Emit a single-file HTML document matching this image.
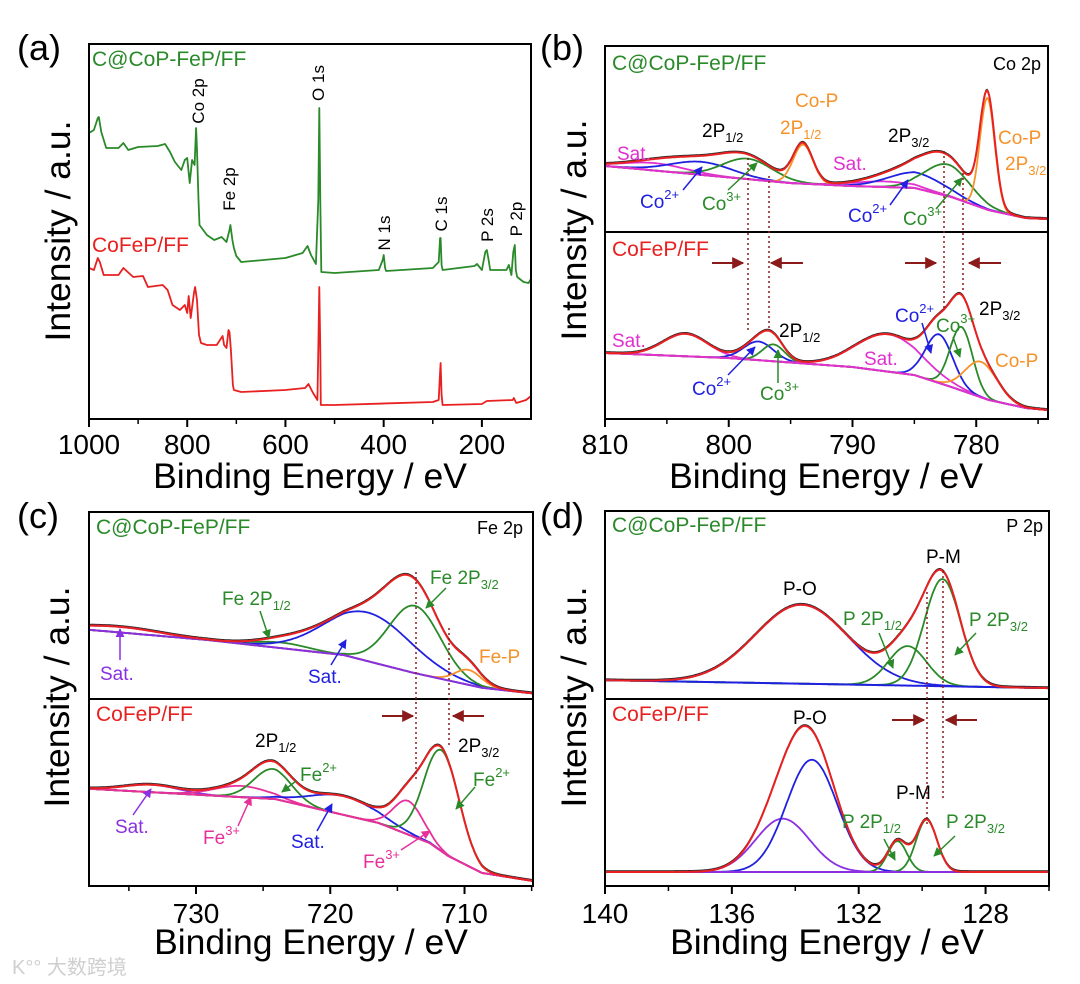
<!DOCTYPE html>
<html><head><meta charset="utf-8">
<style>
html,body{margin:0;padding:0;background:#fff;}
svg{display:block;font-family:"Liberation Sans","Noto Sans CJK SC",sans-serif;}
</style></head>
<body>
<svg id="chart" width="1080" height="984" viewBox="0 0 1080 984" xmlns="http://www.w3.org/2000/svg">
<defs>
<marker id="mg" viewBox="0 0 10 10" refX="9" refY="5" markerWidth="6" markerHeight="6" orient="auto"><path d="M0,0L10,5L0,10z" fill="#2a8a2a"/></marker>
<marker id="mb" viewBox="0 0 10 10" refX="9" refY="5" markerWidth="6" markerHeight="6" orient="auto"><path d="M0,0L10,5L0,10z" fill="#2020e0"/></marker>
<marker id="mp" viewBox="0 0 10 10" refX="9" refY="5" markerWidth="6" markerHeight="6" orient="auto"><path d="M0,0L10,5L0,10z" fill="#8a30e0"/></marker>
<marker id="mk" viewBox="0 0 10 10" refX="9" refY="5" markerWidth="6" markerHeight="6" orient="auto"><path d="M0,0L10,5L0,10z" fill="#e8309a"/></marker>
<marker id="md" viewBox="0 0 10 10" refX="9" refY="5" markerWidth="6" markerHeight="6" orient="auto"><path d="M0,0L10,5L0,10z" fill="#8b1a1a"/></marker>
</defs>
<g id="plots"></g>

<text x="17" y="60" font-size="36">(a)</text>
<text x="540" y="60" font-size="36">(b)</text>
<text x="17" y="528" font-size="36">(c)</text>
<text x="540" y="528" font-size="36">(d)</text>

<text x="310" y="488" font-size="35.5" text-anchor="middle">Binding Energy / eV</text>
<text x="826" y="488" font-size="35.5" text-anchor="middle">Binding Energy / eV</text>
<text x="311" y="954" font-size="35.5" text-anchor="middle">Binding Energy / eV</text>
<text x="827" y="954" font-size="35.5" text-anchor="middle">Binding Energy / eV</text>
<text transform="translate(70,231) rotate(-90)" font-size="35.5" text-anchor="middle">Intensity / a.u.</text>
<text transform="translate(586,230) rotate(-90)" font-size="35.5" text-anchor="middle">Intensity / a.u.</text>
<text transform="translate(69,697) rotate(-90)" font-size="35.5" text-anchor="middle">Intensity / a.u.</text>
<text transform="translate(586,697) rotate(-90)" font-size="35.5" text-anchor="middle">Intensity / a.u.</text>

<g font-size="21">
<text x="92" y="66" fill="#2a8a2a">C@CoP-FeP/FF</text>
<text x="92" y="252" fill="#e82020">CoFeP/FF</text>
</g>
<g font-size="17">
<text transform="translate(198,101) rotate(-90)" y="6" text-anchor="middle">Co 2p</text>
<text transform="translate(229,189) rotate(-90)" y="6" text-anchor="middle">Fe 2p</text>
<text transform="translate(318,83) rotate(-90)" y="6" text-anchor="middle">O 1s</text>
<text transform="translate(384,233) rotate(-90)" y="6" text-anchor="middle">N 1s</text>
<text transform="translate(441,214) rotate(-90)" y="6" text-anchor="middle">C 1s</text>
<text transform="translate(487,225) rotate(-90)" y="6" text-anchor="middle">P 2s</text>
<text transform="translate(516,219) rotate(-90)" y="6" text-anchor="middle">P 2p</text>
</g>

<g font-size="19">
<text x="612" y="70" fill="#2a8a2a" font-size="21">C@CoP-FeP/FF</text>
<text x="1041" y="70" text-anchor="end" font-size="18">Co 2p</text>
<text x="702" y="137">2P<tspan font-size="13" dy="5">1/2</tspan></text>
<text x="795" y="107" fill="#f5922a">Co-P</text>
<text x="780" y="134" fill="#f5922a">2P<tspan font-size="13" dy="5">1/2</tspan></text>
<text x="888" y="142">2P<tspan font-size="13" dy="5">3/2</tspan></text>
<text x="617" y="160" fill="#e030d0">Sat.</text>
<text x="833" y="170" fill="#e030d0">Sat.</text>
<text x="998" y="144" fill="#f5922a">Co-P</text>
<text x="1005" y="170" fill="#f5922a">2P<tspan font-size="13" dy="5">3/2</tspan></text>
<text x="640" y="208" fill="#2020e0">Co<tspan font-size="13" dy="-9">2+</tspan></text>
<text x="702" y="210" fill="#2a8a2a">Co<tspan font-size="13" dy="-9">3+</tspan></text>
<text x="848" y="222" fill="#2020e0">Co<tspan font-size="13" dy="-9">2+</tspan></text>
<text x="903" y="225" fill="#2a8a2a">Co<tspan font-size="13" dy="-9">3+</tspan></text>
<text x="612" y="256" fill="#e82020" font-size="21">CoFeP/FF</text>
<text x="612" y="347" fill="#e030d0">Sat.</text>
<text x="779" y="337">2P<tspan font-size="13" dy="5">1/2</tspan></text>
<text x="692" y="395" fill="#2020e0">Co<tspan font-size="13" dy="-9">2+</tspan></text>
<text x="760" y="400" fill="#2a8a2a">Co<tspan font-size="13" dy="-9">3+</tspan></text>
<text x="864" y="365" fill="#e030d0">Sat.</text>
<text x="895" y="322" fill="#2020e0">Co<tspan font-size="13" dy="-9">2+</tspan></text>
<text x="936" y="332" fill="#2a8a2a">Co<tspan font-size="13" dy="-9">3+</tspan></text>
<text x="979" y="315">2P<tspan font-size="13" dy="5">3/2</tspan></text>
<text x="995" y="367" fill="#f5922a">Co-P</text>
</g>
<g stroke-width="1.5" fill="none">
<line x1="683" y1="190" x2="702" y2="167" stroke="#2020e0" marker-end="url(#mb)"/>
<line x1="728" y1="190" x2="757" y2="163" stroke="#2a8a2a" marker-end="url(#mg)"/>
<line x1="890" y1="205" x2="908" y2="180" stroke="#2020e0" marker-end="url(#mb)"/>
<line x1="936" y1="209" x2="962" y2="178" stroke="#2a8a2a" marker-end="url(#mg)"/>
<line x1="728" y1="375" x2="755" y2="347" stroke="#2020e0" marker-end="url(#mb)"/>
<line x1="778" y1="383" x2="778" y2="350" stroke="#2a8a2a" marker-end="url(#mg)"/>
<line x1="922" y1="323" x2="931" y2="353" stroke="#2020e0" marker-end="url(#mb)"/>
<line x1="953" y1="337" x2="960" y2="357" stroke="#2a8a2a" marker-end="url(#mg)"/>
<g stroke="#8b1a1a" stroke-dasharray="2,3">
<line x1="748" y1="158" x2="748" y2="333"/>
<line x1="769" y1="176" x2="769" y2="328"/>
<line x1="944" y1="151" x2="944" y2="310"/>
<line x1="963" y1="173" x2="963" y2="290"/>
</g>
<g stroke="#8b1a1a" stroke-width="2">
<line x1="712" y1="263" x2="743" y2="263" marker-end="url(#md)"/>
<line x1="803" y1="263" x2="771" y2="263" marker-end="url(#md)"/>
<line x1="905" y1="263" x2="936" y2="263" marker-end="url(#md)"/>
<line x1="1001" y1="263" x2="969" y2="263" marker-end="url(#md)"/>
</g>
</g>

<g font-size="19">
<text x="96" y="534" fill="#2a8a2a" font-size="21">C@CoP-FeP/FF</text>
<text x="523" y="534" text-anchor="end" font-size="18">Fe 2p</text>
<text x="222" y="605" fill="#2a8a2a">Fe 2P<tspan font-size="13" dy="5">1/2</tspan></text>
<text x="430" y="584" fill="#2a8a2a">Fe 2P<tspan font-size="13" dy="5">3/2</tspan></text>
<text x="100" y="680" fill="#8a30e0">Sat.</text>
<text x="308" y="683" fill="#2020e0">Sat.</text>
<text x="479" y="663" fill="#f5922a">Fe-P</text>
<text x="96" y="721" fill="#e82020" font-size="21">CoFeP/FF</text>
<text x="255" y="747">2P<tspan font-size="13" dy="5">1/2</tspan></text>
<text x="300" y="781" fill="#2a8a2a">Fe<tspan font-size="13" dy="-9">2+</tspan></text>
<text x="115" y="833" fill="#8a30e0">Sat.</text>
<text x="203" y="844" fill="#e8309a">Fe<tspan font-size="13" dy="-9">3+</tspan></text>
<text x="291" y="848" fill="#2020e0">Sat.</text>
<text x="363" y="868" fill="#e8309a">Fe<tspan font-size="13" dy="-9">3+</tspan></text>
<text x="458" y="752">2P<tspan font-size="13" dy="5">3/2</tspan></text>
<text x="473" y="786" fill="#2a8a2a">Fe<tspan font-size="13" dy="-9">2+</tspan></text>
</g>
<g stroke-width="1.5" fill="none">
<line x1="260" y1="611" x2="269" y2="638" stroke="#2a8a2a" marker-end="url(#mg)"/>
<line x1="446" y1="588" x2="426" y2="608" stroke="#2a8a2a" marker-end="url(#mg)"/>
<line x1="120" y1="660" x2="120" y2="629" stroke="#8a30e0" marker-end="url(#mp)"/>
<line x1="331" y1="665" x2="346" y2="640" stroke="#2020e0" marker-end="url(#mb)"/>
<line x1="296" y1="781" x2="282" y2="792" stroke="#2a8a2a" marker-end="url(#mg)"/>
<line x1="133" y1="815" x2="151" y2="789" stroke="#8a30e0" marker-end="url(#mp)"/>
<line x1="238" y1="826" x2="251" y2="797" stroke="#e8309a" marker-end="url(#mk)"/>
<line x1="317" y1="831" x2="332" y2="804" stroke="#2020e0" marker-end="url(#mb)"/>
<line x1="401" y1="850" x2="430" y2="831" stroke="#e8309a" marker-end="url(#mk)"/>
<line x1="475" y1="787" x2="456" y2="809" stroke="#2a8a2a" marker-end="url(#mg)"/>
<g stroke="#8b1a1a" stroke-dasharray="2,3">
<line x1="416" y1="572" x2="416" y2="779"/>
<line x1="449" y1="628" x2="449" y2="747"/>
</g>
<g stroke="#8b1a1a" stroke-width="2">
<line x1="382" y1="716" x2="413" y2="716" marker-end="url(#md)"/>
<line x1="484" y1="716" x2="453" y2="716" marker-end="url(#md)"/>
</g>
</g>

<g font-size="19">
<text x="612" y="532" fill="#2a8a2a" font-size="21">C@CoP-FeP/FF</text>
<text x="1043" y="532" text-anchor="end" font-size="18">P 2p</text>
<text x="926" y="563">P-M</text>
<text x="783" y="595">P-O</text>
<text x="843" y="625" fill="#2a8a2a">P 2P<tspan font-size="13" dy="5">1/2</tspan></text>
<text x="969" y="626" fill="#2a8a2a">P 2P<tspan font-size="13" dy="5">3/2</tspan></text>
<text x="612" y="721" fill="#e82020" font-size="21">CoFeP/FF</text>
<text x="793" y="724">P-O</text>
<text x="896" y="799">P-M</text>
<text x="842" y="828" fill="#2a8a2a">P 2P<tspan font-size="13" dy="5">1/2</tspan></text>
<text x="946" y="828" fill="#2a8a2a">P 2P<tspan font-size="13" dy="5">3/2</tspan></text>
</g>
<g stroke-width="1.5" fill="none">
<line x1="879" y1="633" x2="893" y2="668" stroke="#2a8a2a" marker-end="url(#mg)"/>
<line x1="976" y1="633" x2="955" y2="655" stroke="#2a8a2a" marker-end="url(#mg)"/>
<line x1="884" y1="839" x2="895" y2="860" stroke="#2a8a2a" marker-end="url(#mg)"/>
<line x1="955" y1="836" x2="934" y2="856" stroke="#2a8a2a" marker-end="url(#mg)"/>
<g stroke="#8b1a1a" stroke-dasharray="2,3">
<line x1="927" y1="592" x2="927" y2="826"/>
<line x1="943" y1="571" x2="943" y2="799"/>
</g>
<g stroke="#8b1a1a" stroke-width="2">
<line x1="892" y1="720" x2="924" y2="720" marker-end="url(#md)"/>
<line x1="977" y1="720" x2="946" y2="720" marker-end="url(#md)"/>
</g>
</g>

<text x="12" y="974" font-size="20" fill="#cfcfcf">K°° 大数跨境</text>
</svg>

<script>
const aGreenE = [1000,990,982,980,975,965,940,930,920,900,860,845,835,825,812,805,800,795,790,785,783,782,780,777,775,760,745,730,720,714,712,708,705,700,690,600,565,555,548,538,533,531,529,527,500,410,402,400,397,395,300,288,285,284,282,280,215,210,200,193,190,187,183,150,145,140,136,133,131,128,115,105,100];
const aGreenV = [286,289,301,302,287,271,271,276,269,272,273,275,267,257,249,259,261,236,259,254,279,291,269,219,194,184,179,182,177,189,194,179,171,163,157,161,166,173,164,155,219,311,219,147,146,149,159,164,151,148,151,157,181,181,154,149,153,155,149,167,169,161,149,149,154,144,167,174,149,142,137,136,140];
const aRedE = [1000,990,982,978,970,940,930,910,890,880,850,840,830,815,805,800,797,793,786,784,780,776,772,760,740,728,725,720,716,714,711,707,705,690,600,560,553,545,535,533,531,529,528,500,300,288,286,284,282,280,200,190,137,135,130,110,100];
const aRedV = [151,149,161,157,144,144,151,142,143,132,134,129,114,109,114,106,123,101,127,132,119,84,76,74,74,83,74,71,89,87,69,34,29,27,29,31,35,27,19,69,132,69,14,14,17,19,39,56,24,14,15,18,19,21,16,19,23];
const aTicksMajor = [1000,800,600,400,200];
const aTicksMinor = [900,700,500,300];

const bTopBgE = [810,795,790,785,782,779,776,774.2];
const bTopBgV = [35.5,26.3,24.7,23.7,18.8,11.8,7.5,7];
const bTopCenters = [806,787.4,802.2,798.5,794.0,784.8,782.3,779.1];
const bTopHeights = [4,3,7,11,21,8.5,17,60];
const bTopWidths = [2.5,2.5,2.5,2,0.8,2.3,1.8,0.6];
const bTopKinds = ['sat','sat','co2','co3','cop','co2','co3','cop'];
const bBotBgE = [810,800,790,785,782,779,776,774.2];
const bBotBgV = [35.3,32.6,27.8,23.5,17.1,10.2,5.9,4.8];
const bBotCenters = [803.5,797.6,796.4,787.1,783.0,781.2,779.6];
const bBotHeights = [12,10,9,20,26,34,19];
const bBotWidths = [1.8,1.2,0.9,2.6,1.1,0.9,1.3];
const bBotKinds = ['sat','co2','co3','sat','co2','co3','cop'];
const bTicksMajor = [810,800,790,780];
const bTicksMinor = [805,795,785,775];

const cTopBgE = [737.97,729.2,719,713.8,708.7,704.9];
const cTopBgV = [37,31.6,23.5,14,6,3];
const cTopCenters = [735.7,723.6,717.2,713.7,709.7];
const cTopHeights = [3,3,26,36,8];
const cTopWidths = [3,2,3.2,1.9,1];
const cTopKinds = ['satp','fe2','satb','fe2','fep'];
const cBotBgE = [737.97,724.1,716.4,712.6,711.2,708.7,704.9];
const cBotBgV = [52,46.5,33.7,23,16,7,2.7];
const cBotCenters = [733.3,726.6,724.3,719,714.2,711.7];
const cBotHeights = [4,6,16,10,18,54];
const cBotWidths = [2,2,1.4,2.5,1.1,1.3];
const cBotKinds = ['satp','fe3','fe2','satb','fe3','fe2'];
const cTicksMajor = [730,720,710];
const cTicksMinor = [735,725,715,705];

const dTopBgE = [140,126];
const dTopBgV = [10,5.8];
const dTopCenters = [133.8,130.46,129.36];
const dTopHeights = [42,21,57];
const dTopWidths = [1.47,0.6,0.57];
const dTopKinds = ['po','p','p'];
const dBotBgE = [140,126];
const dBotBgV = [7.5,7.5];
const dBotCenters = [134.4,133.48,130.78,129.86];
const dBotHeights = [28.5,60,16.5,28];
const dBotWidths = [0.85,0.8,0.3,0.33];
const dBotKinds = ['pox','po','p','p'];
const dTicksMajor = [140,136,132,128];
const dTicksMinor = [138,134,130,126];

const COLORS = {sat:'#e030d0',co2:'#2020e0',co3:'#2a8a2a',cop:'#f5922a',satp:'#8a30e0',satb:'#2020e0',fe2:'#2a8a2a',fe3:'#e8309a',fep:'#f5922a',po:'#2020e0',pox:'#8a30e0',p:'#2a8a2a'};

const NS = 'http://www.w3.org/2000/svg';
const layer = document.getElementById('plots');

function mk(tag, attrs, name) {
  const e = document.createElementNS(NS, tag);
  for (const k in attrs) e.setAttribute(k, attrs[k]);
  
  
  layer.appendChild(e);
  return e;
}
function xScale(p) { return E => p.x0 + (p.E0 - E) / (p.E0 - p.E1) * (p.x1 - p.x0); }
function yScale(top, bot, vmax) { return v => bot - v / vmax * (bot - top); }
function interp(Es, Vs, E) {
  if (Es.length === 1) return Vs[0];
  for (let i = 0; i < Es.length - 1; i++) {
    const a = Es[i], b = Es[i + 1];
    if ((E <= a && E >= b) || (E >= a && E <= b)) return Vs[i] + (Vs[i + 1] - Vs[i]) * (E - a) / (b - a);
  }
  return E > Math.max(Es[0], Es[Es.length - 1]) === (Es[0] > Es[Es.length - 1]) ? Vs[0] : Vs[Vs.length - 1];
}
function gauss(E, c, h, w) { return h * Math.exp(-(E - c) * (E - c) / (2 * w * w)); }

function drawAxes(p, majors, minors, name) {
  const X = xScale(p);
  mk('rect', {x: p.x0, y: p.y0, width: p.x1 - p.x0, height: p.y1 - p.y0, fill: 'none', stroke: '#000', 'stroke-width': 2}, name + '-frame');
  if (p.split) mk('line', {x1: p.x0, x2: p.x1, y1: p.split, y2: p.split, stroke: '#000', 'stroke-width': 2}, name + '-divider');
  majors.forEach(E => {
    const x = X(E);
    mk('line', {x1: x, x2: x, y1: p.y1, y2: p.y1 + 8, stroke: '#000', 'stroke-width': 2}, name + '-major-tick');
    const t = mk('text', {x: x, y: p.labelY, 'font-size': 28, 'text-anchor': 'middle'}, name + '-tick-label');
    t.textContent = E;
  });
  minors.forEach(E => {
    const x = X(E);
    mk('line', {x1: x, x2: x, y1: p.y1, y2: p.y1 + 5, stroke: '#000', 'stroke-width': 1.5}, name + '-minor-tick');
  });
}

function curvePath(p, top, bot, f) {
  const X = xScale(p), Y = yScale(top, bot, 100);
  let d = '';
  const n = 400;
  for (let i = 0; i <= n; i++) {
    const E = p.E0 + (p.E1 - p.E0) * i / n;
    d += (i ? 'L' : 'M') + X(E).toFixed(1) + ',' + Y(f(E)).toFixed(1);
  }
  return d;
}

function drawFit(p, top, bot, bgE, bgV, C, H, W, K, bgColor, name) {
  const bg = E => interp(bgE, bgV, E);
  const env = E => { let s = bg(E); for (let i = 0; i < C.length; i++) s += gauss(E, C[i], H[i], W[i]); return s; };
  mk('path', {d: curvePath(p, top, bot, E => env(E) + 0.7), fill: 'none', stroke: '#222', 'stroke-width': 1}, name + '-raw-data');
  for (let i = 0; i < C.length; i++) {
    mk('path', {d: curvePath(p, top, bot, E => bg(E) + gauss(E, C[i], H[i], W[i])), fill: 'none', stroke: COLORS[K[i]], 'stroke-width': 1.8}, name + '-component-' + K[i]);
  }
  mk('path', {d: curvePath(p, top, bot, bg), fill: 'none', stroke: bgColor, 'stroke-width': 2}, name + '-background');
  mk('path', {d: curvePath(p, top, bot, env), fill: 'none', stroke: '#e82020', 'stroke-width': 2}, name + '-envelope');
}

const PA = {x0: 89, x1: 531, y0: 44, y1: 419, E0: 1000, E1: 100, labelY: 454};
(function () {
  const X = xScale(PA), Y = yScale(44, 419, 375);
  function poly(Es, Vs, color, nm) {
    let d = '';
    Es.forEach((E, i) => { d += (i ? 'L' : 'M') + X(E).toFixed(1) + ',' + Y(Vs[i]).toFixed(1); });
    mk('path', {d: d, fill: 'none', stroke: color, 'stroke-width': 1.8, 'stroke-linejoin': 'round'}, nm);
  }
  poly(aGreenE, aGreenV, '#2a8a2a', 'survey-c-cop-fep');
  poly(aRedE, aRedV, '#e82020', 'survey-cofep');
})();
drawAxes(PA, aTicksMajor, aTicksMinor, 'axis-a');

const PB = {x0: 605, x1: 1048, y0: 46, y1: 419, split: 232, E0: 810, E1: 774.2, labelY: 454};
drawFit(PB, 46, 232, bTopBgE, bTopBgV, bTopCenters, bTopHeights, bTopWidths, bTopKinds, '#e030d0', 'co2p-top');
drawFit(PB, 232, 419, bBotBgE, bBotBgV, bBotCenters, bBotHeights, bBotWidths, bBotKinds, '#e030d0', 'co2p-bottom');
drawAxes(PB, bTicksMajor, bTicksMinor, 'axis-b');

const PC = {x0: 89, x1: 533, y0: 512, y1: 886, split: 699, E0: 737.97, E1: 704.9, labelY: 923};
drawFit(PC, 512, 699, cTopBgE, cTopBgV, cTopCenters, cTopHeights, cTopWidths, cTopKinds, '#8a30e0', 'fe2p-top');
drawFit(PC, 699, 886, cBotBgE, cBotBgV, cBotCenters, cBotHeights, cBotWidths, cBotKinds, '#e8309a', 'fe2p-bottom');
drawAxes(PC, cTicksMajor, cTicksMinor, 'axis-c');

const PD = {x0: 605, x1: 1049, y0: 511, y1: 886, split: 699, E0: 140, E1: 126.0, labelY: 923};
drawFit(PD, 511, 699, dTopBgE, dTopBgV, dTopCenters, dTopHeights, dTopWidths, dTopKinds, '#2020e0', 'p2p-top');
drawFit(PD, 699, 886, dBotBgE, dBotBgV, dBotCenters, dBotHeights, dBotWidths, dBotKinds, '#8a30e0', 'p2p-bottom');
drawAxes(PD, dTicksMajor, dTicksMinor, 'axis-d');
</script>
</body></html>
